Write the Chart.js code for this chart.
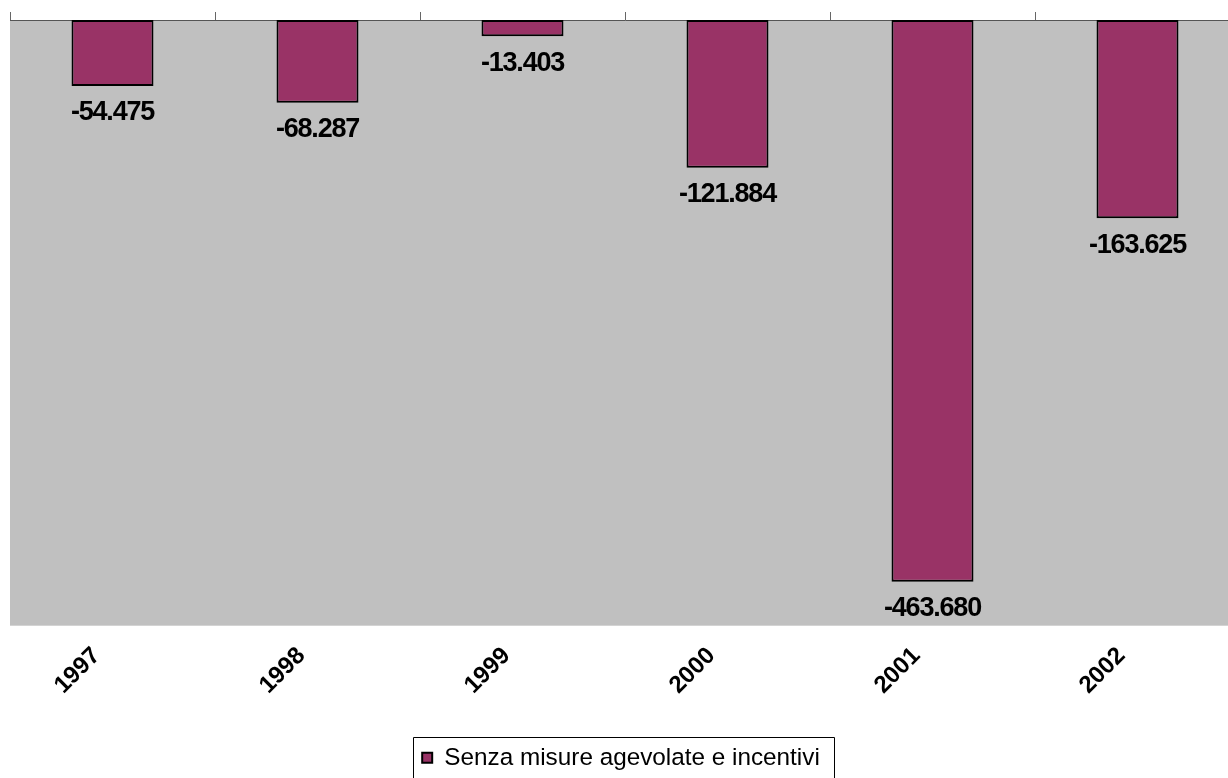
<!DOCTYPE html>
<html>
<head>
<meta charset="utf-8">
<script src="https://cdn.jsdelivr.net/npm/chart.js@4.4.1/dist/chart.umd.min.js"></script>
<style>
  html, body { margin: 0; padding: 0; background: #ffffff; overflow: hidden; }
  #wrap { width: 1228px; height: 778px; position: relative; overflow: hidden; }
</style>
</head>
<body>
<div id="wrap"><canvas id="c" width="1240" height="778"></canvas></div>
<script>
// Years on the category axis
const years = ['1997', '1998', '1999', '2000', '2001', '2002'];
// Balance per year (Italian notation in labels: thousands separated by '.')
const values = [-54475, -68287, -13403, -121884, -463680, -163625];
const seriesName = 'Senza misure agevolate e incentivi';
// Value axis range
const yMin = -500000;
const yMax = 0;

const FONT = '"Liberation Sans", Arial, Helvetica, sans-serif';

function formatIt(v) {
  const sign = v < 0 ? '-' : '';
  const s = String(Math.abs(Math.round(v)));
  return sign + s.replace(/\B(?=(\d{3})+(?!\d))/g, '.');
}

// Grey plot-area background
const plotBackground = {
  id: 'plotBackground',
  beforeDraw(chart) {
    const { ctx, chartArea: a } = chart;
    ctx.save();
    ctx.fillStyle = '#c0c0c0';
    ctx.fillRect(a.left, a.top, a.right - a.left, a.bottom - a.top);
    ctx.restore();
  }
};

// Value labels under each bar
const valueLabels = {
  id: 'valueLabels',
  afterDatasetsDraw(chart) {
    const { ctx } = chart;
    const meta = chart.getDatasetMeta(0);
    ctx.save();
    ctx.font = 'bold 27px ' + FONT;
    if ('letterSpacing' in ctx) ctx.letterSpacing = '-1.2px';
    ctx.fillStyle = '#000000';
    ctx.textAlign = 'center';
    ctx.textBaseline = 'middle';
    meta.data.forEach((bar, i) => {
      const v = chart.data.datasets[0].data[i];
      ctx.fillText(formatIt(v), bar.x, bar.y + 27);
    });
    ctx.restore();
  }
};

// Nudge the legend block slightly left/down, then frame it
const legendFrame = {
  id: 'legendFrame',
  afterLayout(chart) {
    const lg = chart.legend;
    if (!lg) return;
    lg.left -= 4; lg.right -= 4;
    lg.top += 2; lg.bottom += 2;
  },
  afterDraw(chart) {
    const lg = chart.legend;
    if (!lg || !lg.legendHitBoxes || !lg.legendHitBoxes.length) return;
    const hb = lg.legendHitBoxes[0];
    const { ctx } = chart;
    ctx.save();
    ctx.strokeStyle = '#000000';
    ctx.lineWidth = 1;
    const left = Math.round(hb.left - 9) + 0.5;
    const top = Math.round(hb.top - 9) + 0.5;
    const right = Math.round(hb.left + hb.width + 14) + 0.5;
    ctx.beginPath();
    ctx.moveTo(left, chart.height + 5);
    ctx.lineTo(left, top);
    ctx.lineTo(right, top);
    ctx.lineTo(right, chart.height + 5);
    ctx.stroke();
    ctx.restore();
  }
};

new Chart(document.getElementById('c'), {
  type: 'bar',
  data: {
    labels: years,
    datasets: [{
      label: seriesName,
      data: values,
      backgroundColor: '#993366',
      borderColor: '#000000',
      borderWidth: 2,
      borderSkipped: false,
      barPercentage: 0.4,
      categoryPercentage: 1.0,
      xAxisID: 'x',
      yAxisID: 'y'
    }]
  },
  options: {
    responsive: false,
    animation: false,
    devicePixelRatio: 1,
    layout: { padding: { left: 10, right: 0, top: 12, bottom: 0 } },
    plugins: {
      legend: {
        display: true,
        position: 'bottom',
        labels: {
          boxWidth: 10,
          boxHeight: 10,
          padding: 10,
          color: '#000000',
          font: { family: FONT, size: 24.3, lineHeight: 1 }
        }
      },
      tooltip: { enabled: false }
    },
    scales: {
      x: {
        type: 'category',
        position: 'bottom',
        offset: true,
        grid: { display: false, drawTicks: false },
        border: { display: false },
        ticks: {
          color: '#000000',
          font: { family: FONT, size: 24, weight: 'bold' },
          minRotation: 45,
          maxRotation: 45,
          padding: 16,
          labelOffset: -16,
          autoSkip: false
        },
        afterFit(scale) { scale.height = 108; }
      },
      xTop: {
        type: 'category',
        labels: years,
        position: 'top',
        offset: true,
        grid: {
          display: true,
          offset: true,
          drawOnChartArea: false,
          drawTicks: true,
          tickLength: 8,
          color: '#666666',
          lineWidth: 1
        },
        border: { display: true, color: '#555555', width: 1 },
        ticks: { display: false }
      },
      y: {
        type: 'linear',
        display: false,
        min: yMin,
        max: yMax
      }
    }
  },
  plugins: [plotBackground, valueLabels, legendFrame]
});
</script>
</body>
</html>
